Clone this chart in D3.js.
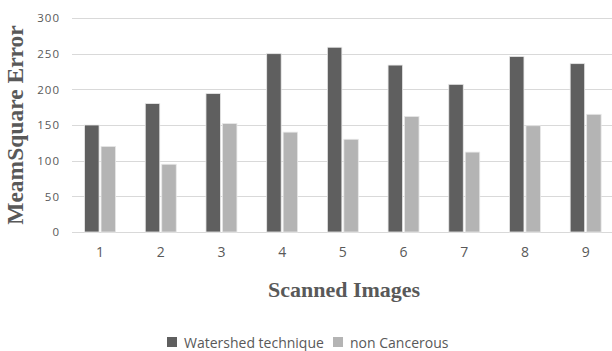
<!DOCTYPE html>
<html lang="en">
<head>
<meta charset="UTF-8">
<title>MeamSquare Error</title>
<script src="https://d3js.org/d3.v7.min.js"></script>
<style>
  body { margin: 0; background: white; }
  svg { display: block; }
  .tick text { font-family: "Open Sans", sans-serif; fill: #595959; }
  .yaxis .tick text { font-size: 11.5px; letter-spacing: 1px; }
  .xaxis .tick text { font-size: 14px; }
  .grid line { stroke: #d9d9d9; stroke-width: 1px; }
  .title { font-family: "Liberation Serif", serif; font-weight: bold; fill: #595959; }
  .legend text { font-family: "Open Sans", sans-serif; font-size: 14px; fill: #595959; }
</style>
</head>
<body>
<div id="container"></div>
<script>
  // data
  const images = ["1", "2", "3", "4", "5", "6", "7", "8", "9"];
  const seriesNames = ["Watershed technique", "non Cancerous"];
  const watershed = [150, 180, 194, 250, 259, 234, 207, 246, 236];
  const nonCancerous = [120, 95, 152, 140, 130, 162, 112, 149, 165];
  const yTicks = [0, 50, 100, 150, 200, 250, 300];
  const colors = ["#5f5f5f", "#b4b4b4"];

  const width = 612, height = 351;
  const svg = d3.select("#container").append("svg")
      .attr("width", width).attr("height", height);

  const y = d3.scaleLinear().domain([0, 300]).range([232, 18]);
  const x = d3.scaleBand().domain(images).range([69.7, 616])
      .paddingInner(0.49).paddingOuter(0.245);
  const xs = d3.scaleBand().domain(seriesNames).range([0, x.bandwidth()]).paddingInner(0.12);

  // gridlines
  svg.append("g").attr("class", "grid")
    .selectAll("line").data(yTicks).enter().append("line")
      .attr("x1", 72).attr("x2", width)
      .attr("y1", d => Math.round(y(d)) + 0.5).attr("y2", d => Math.round(y(d)) + 0.5);

  // y axis labels
  const yAxis = d3.axisLeft(y).tickValues(yTicks).tickSize(0).tickPadding(0);
  svg.append("g").attr("class", "yaxis").attr("transform", "translate(60,0)").call(yAxis)
    .call(g => g.select(".domain").remove());

  // x axis labels
  const xAxis = d3.axisBottom(x).tickSize(0).tickPadding(0);
  svg.append("g").attr("class", "xaxis").attr("transform", "translate(0,247)").call(xAxis)
    .call(g => g.select(".domain").remove());

  // bars
  const rows = images.map((img, i) => ({img, vals: [watershed[i], nonCancerous[i]]}));
  const groups = svg.append("g").selectAll("g").data(rows).enter().append("g")
      .attr("transform", d => `translate(${x(d.img)},0)`);
  groups.selectAll("rect")
    .data(d => d.vals.map((v, k) => ({name: seriesNames[k], v, k})))
    .enter().append("rect")
      .attr("x", d => xs(d.name))
      .attr("width", xs.bandwidth())
      .attr("y", d => y(d.v))
      .attr("height", d => y(0) - y(d.v))
      .attr("fill", d => colors[d.k])
      .attr("stroke", "#e8e8e8")
      .attr("stroke-width", 0.8);

  // axis titles
  svg.append("text").attr("class", "title")
    .attr("x", 344).attr("y", 297).attr("text-anchor", "middle")
    .style("font-size", "22px").text("Scanned Images");
  svg.append("text").attr("class", "title")
    .attr("transform", "translate(23,125) rotate(-90)").attr("text-anchor", "middle")
    .style("font-size", "23.5px").text("MeamSquare Error");

  // legend
  const legend = svg.append("g").attr("class", "legend");
  const items = legend.selectAll("g").data(seriesNames).enter().append("g");
  items.append("rect").attr("width", 10).attr("height", 10).attr("y", 337)
    .attr("fill", (d, i) => colors[i]);
  items.append("text").attr("x", 17).attr("y", 348).text(d => d);
  let lx = 167;
  items.each(function() {
    d3.select(this).attr("transform", `translate(${lx},0)`);
    lx += this.getBBox().width + 9;
  });
</script>
</body>
</html>
